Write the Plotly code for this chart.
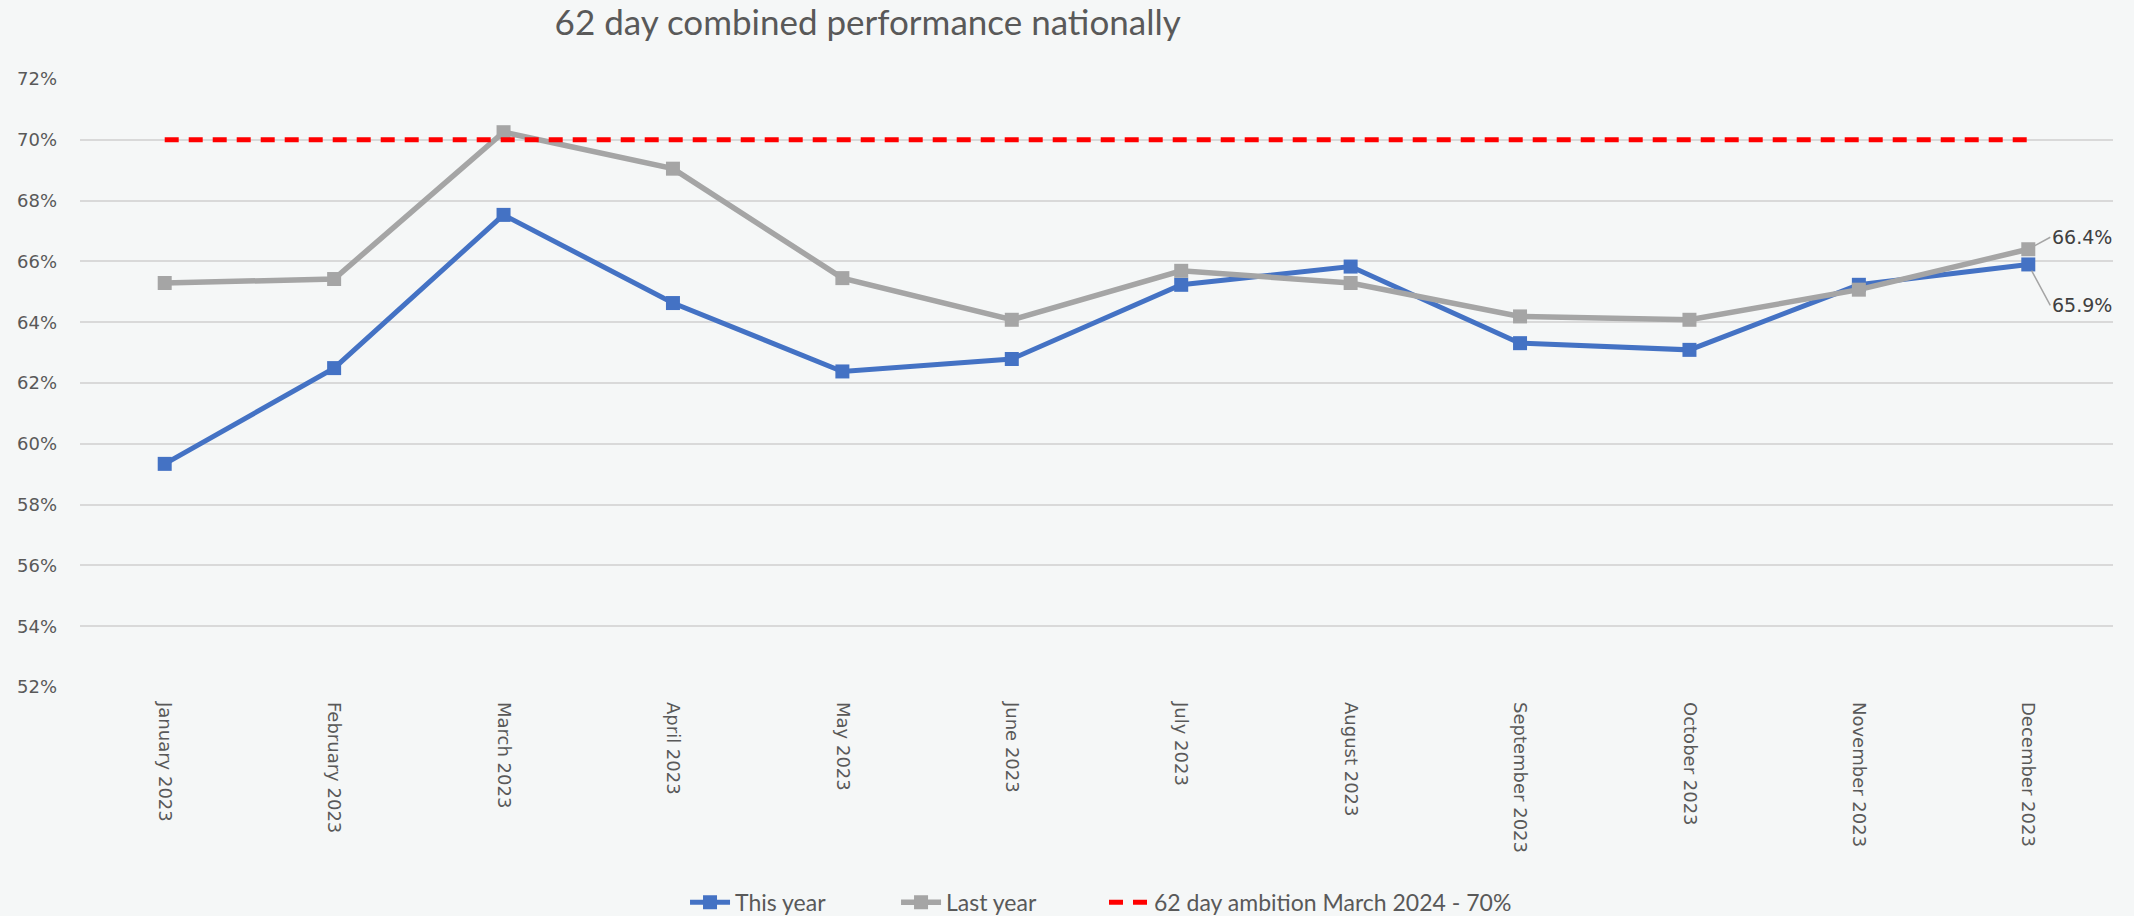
import plotly.graph_objects as go

months = ["January 2023", "February 2023", "March 2023", "April 2023", "May 2023",
          "June 2023", "July 2023", "August 2023", "September 2023", "October 2023",
          "November 2023", "December 2023"]
this_year = [59.34, 62.49, 67.53, 64.63, 62.38, 62.79, 65.23, 65.83, 63.31, 63.09, 65.23, 65.9]
last_year = [65.29, 65.42, 70.25, 69.05, 65.45, 64.08, 65.69, 65.29, 64.19, 64.08, 65.07, 66.4]
ambition = [70] * 12
y_ticks = list(range(52, 73, 2))
y_tick_text = [f"{v}%" for v in y_ticks]

BG = "#F5F7F7"
fig = go.Figure()
fig.add_trace(go.Scatter(x=months, y=this_year, name="This year", mode="lines+markers",
                         line=dict(color="#4472C4", width=5), legend="legend",
                         marker=dict(symbol="square", size=14, color="#4472C4")))
fig.add_trace(go.Scatter(x=months, y=last_year, name="Last year", mode="lines+markers",
                         line=dict(color="#A5A5A5", width=5.5), legend="legend2",
                         marker=dict(symbol="square", size=14, color="#A5A5A5")))
fig.add_trace(go.Scatter(x=months, y=ambition, name="62 day ambition March 2024 - 70%",
                         mode="lines", legend="legend3",
                         line=dict(color="#FF0000", width=5, dash="14px,10px")))

fig.add_annotation(x=months[-1], y=last_year[-1], text=f"{last_year[-1]:.1f}%",
                   showarrow=True, arrowhead=0, arrowwidth=1.5, arrowcolor="#A5A5A5",
                   ax=22, ay=-12, xanchor="left", standoff=7,
                   font=dict(family="DejaVu Sans", size=19, color="#404040"))
fig.add_annotation(x=months[-1], y=this_year[-1], text=f"{this_year[-1]:.1f}%",
                   showarrow=True, arrowhead=0, arrowwidth=1.5, arrowcolor="#A5A5A5",
                   ax=22, ay=41, xanchor="left", standoff=7,
                   font=dict(family="DejaVu Sans", size=19, color="#404040"))

legend_common = dict(orientation="h", xanchor="left", yref="container", y=0.015,
                     yanchor="middle", font=dict(family="Lato", size=23, color="#595959"),
                     bgcolor="rgba(0,0,0,0)", itemwidth=40)

fig.update_layout(
    width=2134, height=916,
    paper_bgcolor=BG, plot_bgcolor=BG,
    margin=dict(l=80, r=21, t=79, b=229, autoexpand=False),
    title=dict(text="62 day combined performance nationally", x=0.4066, xanchor="center",
               y=0.975, yanchor="middle",
               font=dict(family="Lato", size=35, color="#595959")),
    showlegend=True,
    legend=dict(x=0.2976, **legend_common),
    legend2=dict(x=0.4014, **legend_common),
    legend3=dict(x=0.5037, **legend_common),
    font=dict(family="DejaVu Sans", color="#595959"),
)
fig.update_xaxes(range=[-0.5, 11.5], showgrid=False, showline=False, zeroline=False,
                 tickangle=90, automargin=False,
                 tickfont=dict(family="DejaVu Sans", size=18, color="#595959"),
                 ticklabelstandoff=14)
fig.update_yaxes(range=[52, 72], tickvals=y_ticks, ticktext=y_tick_text,
                 showgrid=True, gridcolor="#D9D9D9", gridwidth=2, zeroline=False,
                 showline=False, automargin=False,
                 tickfont=dict(family="DejaVu Sans", size=18, color="#595959"),
                 ticklabelstandoff=22)

fig.write_html("out.html", config={"displayModeBar": False},
               post_script="document.body.style.margin='0';document.body.style.overflow='hidden';")
